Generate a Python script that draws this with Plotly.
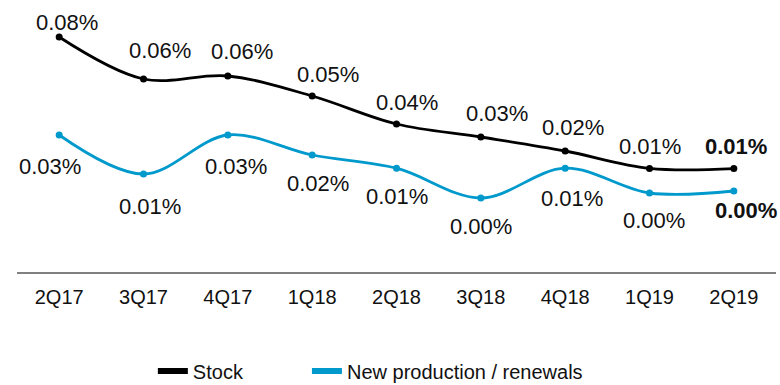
import plotly.graph_objects as go

# Quarterly ratios (in %)
quarters = ["2Q17", "3Q17", "4Q17", "1Q18", "2Q18", "3Q18", "4Q18", "1Q19", "2Q19"]
stock = [0.0805, 0.0595, 0.061, 0.051, 0.037, 0.0305, 0.0235, 0.0148, 0.0147]
new_production = [0.0315, 0.012, 0.0315, 0.0215, 0.0149, 0.0, 0.0149, 0.0025, 0.0035]

# Pixel nudges for the value labels (x right, y up)
stock_label_nudge = [(8, 15), (16, 29), (14, 25), (16, 22), (10, 22), (16, 24), (8, 24), (0, 22), (2, 22)]
np_label_nudge = [(-9, -31), (6, -32), (8, -31), (6, -28), (0, -28), (0, -28), (7, -30), (4, -27), (12, -19)]

BLACK = "#000000"
BLUE = "#0099cc"
FONT = "Liberation Sans, Arial, sans-serif"

fig = go.Figure()

series = [
    ("Stock", stock, BLACK, "legend"),
    ("New production / renewals", new_production, BLUE, "legend2"),
]
for name, vals, color, leg in series:
    fig.add_trace(go.Scatter(
        x=quarters, y=vals, mode="lines+markers", name=name,
        line=dict(color=color, width=2.8, shape="spline", smoothing=1),
        marker=dict(color=color, size=7),
        showlegend=False, cliponaxis=False,
    ))
    # legend entry drawn as a thick bar
    fig.add_trace(go.Scatter(
        x=[None], y=[None], mode="lines", name=name, legend=leg,
        line=dict(color=color, width=6), showlegend=True,
    ))

annotations = []
last = len(quarters) - 1
for vals, nudges in [(stock, stock_label_nudge), (new_production, np_label_nudge)]:
    for i, (q, v) in enumerate(zip(quarters, vals)):
        label = f"{v:.2f}%"
        if i == last:
            label = f"<b>{label}</b>"
        dx, dy = nudges[i]
        annotations.append(dict(
            x=q, y=v, xref="x", yref="y", text=label, showarrow=False,
            xanchor="center", yanchor="middle", xshift=dx, yshift=dy,
            font=dict(family=FONT, size=22, color="#111111"),
        ))

legend_style = dict(
    orientation="h", xanchor="left", y=-0.378, yanchor="middle",
    font=dict(family=FONT, size=20, color="#111111"),
    itemwidth=30, bgcolor="rgba(0,0,0,0)", borderwidth=0,
    tracegroupgap=0,
)

fig.update_layout(
    width=780, height=385,
    margin=dict(l=17, r=4, t=10, b=113, autoexpand=False),
    paper_bgcolor="white", plot_bgcolor="white",
    font=dict(family=FONT, color="#111111"),
    annotations=annotations,
    xaxis=dict(
        type="category", range=[-0.5, 8.5],
        showline=True, linecolor="#808080", linewidth=1.5,
        showgrid=False, zeroline=False, ticks="",
        ticklabelstandoff=6,
        tickfont=dict(family=FONT, size=20, color="#111111"),
        fixedrange=True,
    ),
    yaxis=dict(range=[-0.037, 0.094], visible=False, fixedrange=True),
    legend=dict(x=0.179, **legend_style),
    legend2=dict(x=0.382, **legend_style),
)

fig.write_html("out.html")
